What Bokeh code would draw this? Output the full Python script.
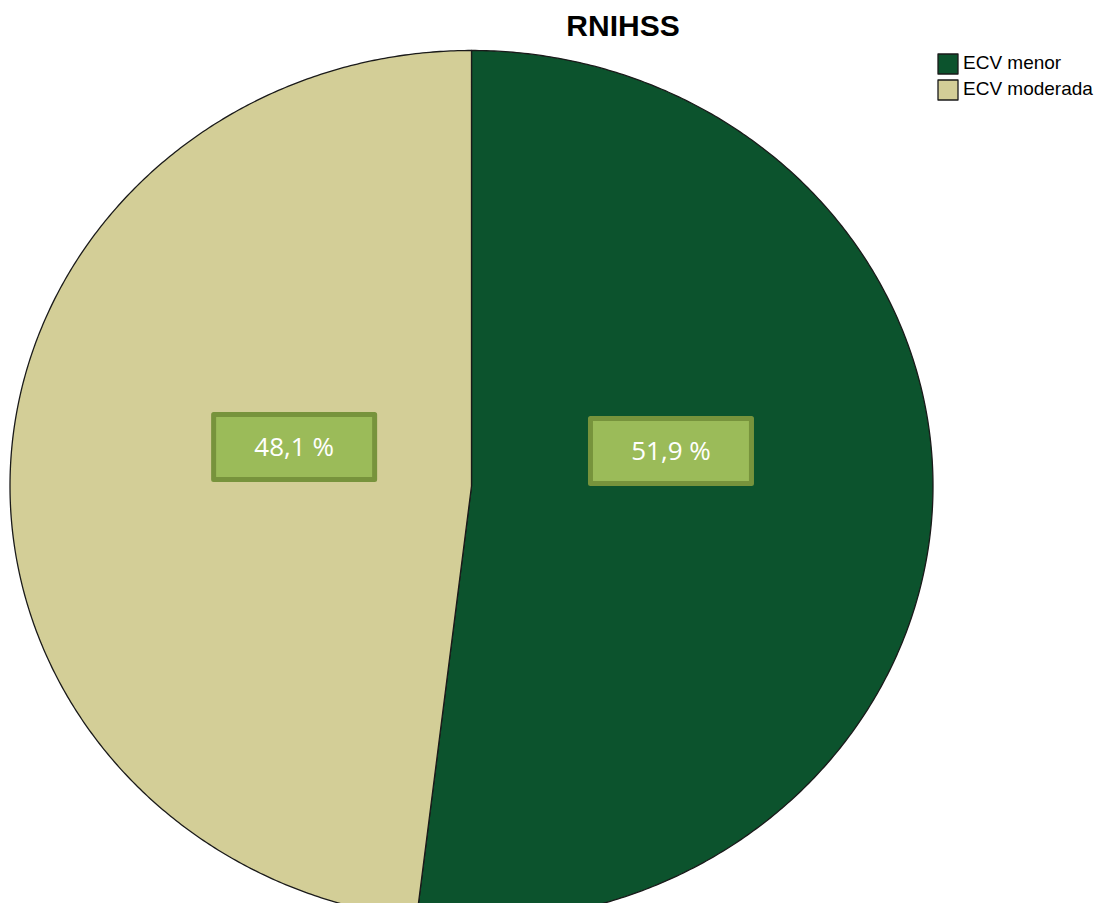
import numpy as np
from bokeh.plotting import figure
from bokeh.models import Range1d, ColumnDataSource, Legend, LegendItem
from bokeh.core.properties import value
from bokeh.embed import file_html
from bokeh.resources import INLINE

# ---- data ----
TITLE = "RNIHSS"
categories = ["ECV menor", "ECV moderada"]
percentages = [51.9, 48.1]
label_texts = ["51,9 %", "48,1 %"]
slice_colors = ["#0c532d", "#d3ce97"]

# ---- layout (pixel coordinates of the picture) ----
W, H = 1094, 903
CX, CY = 471.0, 485.5
RX, RY = 461.5, 435.5
LABEL_RFRAC = [0.433, 0.385]
LABEL_YOFF = [-35.0, -39.0]

p = figure(width=W, height=H, output_backend="svg", toolbar_location=None,
           x_range=Range1d(0, W), y_range=Range1d(H, 0),
           min_border=0, outline_line_color=None)
p.xaxis.visible = False
p.yaxis.visible = False
p.grid.visible = False
p.background_fill_color = "white"
p.border_fill_color = "white"

total = float(sum(percentages))
fracs = np.array(percentages) / total
ends = np.cumsum(fracs) * 2 * np.pi
starts = ends - fracs * 2 * np.pi

renderers = []
mids = []
for i, (s, e) in enumerate(zip(starts, ends)):
    th = np.linspace(s, e, 400)
    xs = np.concatenate([[CX], CX + RX * np.sin(th), [CX]])
    ys = np.concatenate([[CY], CY - RY * np.cos(th), [CY]])
    src = ColumnDataSource(dict(xs=[list(xs)], ys=[list(ys)]))
    r = p.patches("xs", "ys", source=src, fill_color=slice_colors[i],
                  line_color="#1a1a1a", line_width=1.3, line_join="round")
    renderers.append(r)
    mids.append((s + e) / 2)

# percentage labels
lx, ly = [], []
for i, m in enumerate(mids):
    lx.append(CX + RX * LABEL_RFRAC[i] * np.sin(m))
    ly.append(CY + LABEL_YOFF[i])
lsrc = ColumnDataSource(dict(x=lx, y=ly, t=label_texts))
p.rect("x", "y", width=161, height=65, width_units="screen", height_units="screen",
       source=lsrc, fill_color="#9bbb59", line_color="#77933c", line_width=5,
       line_join="round")
p.text("x", "y", text="t", source=lsrc, text_color="white",
       text_font=value("Open Sans"), text_font_size="26px",
       text_align="center", text_baseline="middle", y_offset=-1)

# title
p.text(x=[622.5], y=[25], text=[TITLE], text_font=value("Liberation Sans"),
       text_font_style="bold", text_font_size="30px", text_color="black",
       text_align="center", text_baseline="middle")

# legend
items = [LegendItem(label=categories[i], renderers=[renderers[i]]) for i in range(len(categories))]
leg_h = 2 * 25 + 1
legend = Legend(items=items, location=(935, H - 50.5 - leg_h),
                glyph_width=25, glyph_height=25, label_height=25,
                label_standoff=3, spacing=1, padding=0, margin=0,
                border_line_color=None, background_fill_alpha=0,
                label_text_font="Liberation Sans", label_text_font_size="19px",
                label_text_color="black")
p.add_layout(legend)

open("out.html", "w").write(file_html(p, INLINE))
